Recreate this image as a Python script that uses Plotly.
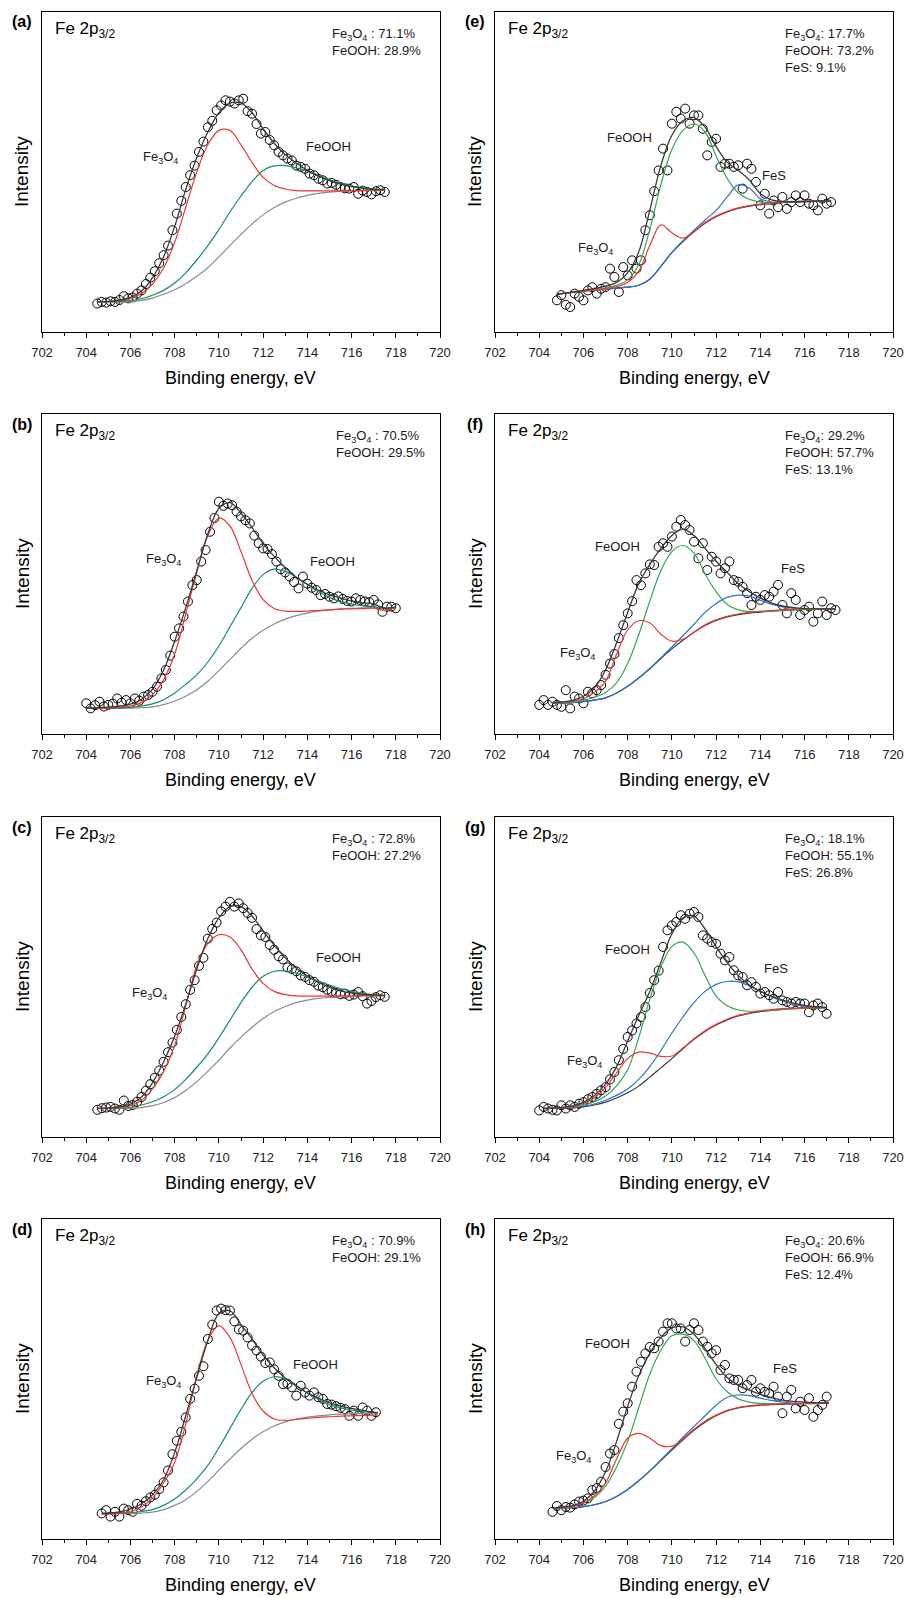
import numpy as np
import plotly.graph_objects as go

FONT = "Arial, Liberation Sans, sans-serif"

# ---------------- panel (a) ----------------
a_scatter_start = 704.5
a_scatter = [8.9, 9.4, 9.2, 9.6, 9.4, 10.0, 11.2, 10.5, 10.8, 12.0, 13.0, 15.0, 17.0, 19.0, 21.5, 24.0, 27.0,
             31.8, 37.0, 41.0, 45.3, 49.0, 52.0, 56.3, 59.5, 64.0, 66.0, 69.3, 70.8, 72.4, 72.0, 71.4, 72.4,
             72.9, 69.0, 68.2, 65.0, 62.0, 62.5, 60.0, 58.3, 56.3, 55.2, 54.2, 53.6, 52.0, 51.6, 51.0, 49.5,
             49.0, 47.9, 47.4, 46.4, 46.6, 46.0, 45.3, 44.9, 44.8, 45.3, 43.2, 44.2, 43.75, 43.0, 44.0, 44.3, 43.75]
a_x = [704.5, 705, 705.5, 706, 706.5, 707, 707.5, 708, 708.5, 709, 709.5, 710, 710.5, 711, 711.5, 712,
       712.5, 713, 713.5, 714, 714.5, 715, 715.5, 716, 716.5, 717, 717.5]
a_bg = [9.4, 9.4, 9.4, 9.5, 9.9, 10.6, 11.8, 13.2, 15.1, 17.4, 20.1, 23.5, 27.0, 30.5, 33.8, 36.6, 38.9,
        40.6, 41.8, 42.7, 43.3, 43.7, 43.9, 44.1, 44.2, 44.3, 44.3]
a_fe3o4 = [9.4, 9.5, 9.8, 10.4, 12.0, 15.0, 20.0, 28.0, 39.0, 50.0, 58.5, 63.0, 63.0, 58.5, 53.0, 48.3, 45.8,
           44.7, 44.2, 44.1, 44.1, 44.1, 44.1, 44.2, 44.2, 44.3, 44.3]
a_feooh = [9.4, 9.4, 9.5, 9.8, 10.4, 11.5, 13.0, 15.3, 18.5, 22.5, 27.0, 32.0, 37.5, 42.5, 47.0, 50.5, 51.9,
           52.0, 51.3, 50.2, 49.0, 47.6, 46.5, 45.6, 45.1, 44.7, 44.5]
a_env = [9.4, 9.6, 10.0, 10.8, 12.8, 17.0, 23.5, 33.0, 44.5, 54.5, 62.5, 68.5, 71.5, 71.5, 68.5, 63.5, 59.0,
         55.5, 52.8, 50.5, 48.7, 47.3, 46.2, 45.4, 44.9, 44.6, 44.4]
a_comp = ["Fe<sub>3</sub>O<sub>4</sub> : 71.1%", "FeOOH: 28.9%"]

# ---------------- panel (b) ----------------
b_scatter_start = 704.0
b_scatter = [9.6, 8.0, 9.0, 10.1, 8.6, 9.1, 9.5, 11.1, 9.8, 10.6, 9.6, 11.1, 10.4, 11.7, 12.2, 13.2, 14.8,
             17.4, 20.0, 24.5, 30.4, 33.0, 36.7, 41.4, 46.5, 48.1, 53.9, 57.5, 63.2, 67.5, 72.6, 71.3, 72.0,
             71.5, 69.5, 68.0, 66.8, 65.8, 62.0, 59.6, 58.0, 57.8, 56.2, 53.9, 51.5, 50.5, 49.2, 47.5, 45.5,
             49.2, 47.0, 45.7, 45.0, 43.4, 43.75, 42.9, 42.4, 43.0, 42.2, 41.6, 41.4, 42.4, 41.9, 41.4, 41.2,
             41.9, 40.5, 38.2, 39.8, 39.8, 39.3]
b_x = [704, 704.5, 705, 705.5, 706, 706.5, 707, 707.5, 708, 708.5, 709, 709.5, 710, 710.5, 711, 711.5, 712,
       712.5, 713, 713.5, 714, 714.5, 715, 715.5, 716, 716.5, 717, 717.5, 718]
b_bg = [8.0, 8.0, 8.0, 8.0, 8.1, 8.2, 8.5, 9.2, 10.3, 11.8, 13.8, 16.5, 19.8, 23.3, 26.8, 29.9, 32.4, 34.4,
        35.9, 37.0, 37.8, 38.4, 38.8, 39.1, 39.3, 39.4, 39.5, 39.5, 39.6]
b_fe3o4 = [8.0, 8.0, 8.1, 8.3, 8.7, 9.8, 12.3, 17.0, 25.0, 37.5, 50.5, 62.0, 67.5, 65.0, 57.0, 48.0, 42.0,
           39.2, 38.4, 38.3, 38.4, 38.6, 38.8, 39.0, 39.1, 39.2, 39.3, 38.6, 39.5]
b_feooh = [8.0, 8.0, 8.0, 8.1, 8.3, 8.7, 9.4, 10.7, 12.8, 15.5, 18.5, 22.5, 27.5, 33.5, 39.5, 45.5, 49.8,
           51.5, 50.8, 49.0, 46.7, 44.5, 42.7, 41.4, 40.6, 40.1, 39.8, 39.2, 39.6]
b_env = [8.1, 8.2, 8.4, 8.7, 9.3, 10.8, 14.0, 20.0, 29.0, 39.5, 51.0, 62.5, 70.5, 72.3, 69.0, 64.5, 59.5,
         55.5, 52.0, 49.0, 46.8, 45.0, 43.5, 42.5, 41.6, 41.0, 40.6, 39.3, 39.7]
b_comp = ["Fe<sub>3</sub>O<sub>4</sub> : 70.5%", "FeOOH: 29.5%"]

# ---------------- panel (c) ----------------
c_scatter_start = 704.5
c_scatter = [8.5, 9.0, 9.2, 9.4, 8.9, 8.5, 11.4, 9.7, 10.0, 11.0, 12.5, 14.5, 16.5, 18.5, 20.8, 23.5, 26.5,
             29.5, 33.5, 37.5, 41.5, 46.0, 49.0, 53.5, 56.0, 62.0, 65.0, 67.0, 70.5, 72.0, 73.5, 72.0, 73.0,
             71.5, 70.0, 68.5, 65.0, 63.0, 62.5, 60.0, 58.5, 56.5, 55.5, 53.0, 52.5, 51.8, 50.5, 50.0, 49.0,
             48.5, 47.3, 46.8, 46.0, 45.5, 45.0, 44.6, 44.8, 44.1, 44.5, 45.3, 44.0, 41.7, 42.5, 43.7, 44.3, 43.8]
c_x = [704.5, 705, 705.5, 706, 706.5, 707, 707.5, 708, 708.5, 709, 709.5, 710, 710.5, 711, 711.5, 712,
       712.5, 713, 713.5, 714, 714.5, 715, 715.5, 716, 716.5, 717, 717.5]
c_bg = [8.9, 8.9, 8.9, 9.0, 9.2, 9.8, 10.8, 12.3, 14.5, 17.3, 20.5, 24.0, 27.8, 31.2, 34.3, 37.0, 39.2,
        40.8, 42.0, 42.8, 43.3, 43.6, 43.8, 44.0, 44.1, 44.2, 44.2]
c_fe3o4 = [8.9, 9.0, 9.2, 9.8, 11.5, 15.0, 20.5, 28.5, 41.0, 53.5, 60.5, 63.2, 62.5, 58.5, 52.5, 48.0, 45.5,
           44.5, 44.1, 44.0, 44.0, 44.0, 44.1, 44.1, 44.2, 44.2, 44.2]
c_feooh = [8.9, 8.9, 9.0, 9.3, 10.0, 11.0, 12.6, 14.8, 18.0, 21.8, 26.0, 31.0, 36.5, 42.0, 46.8, 50.2, 51.8,
           51.9, 51.2, 50.0, 48.7, 47.5, 46.4, 45.5, 44.9, 44.5, 44.3]
c_env = [9.0, 9.1, 9.4, 10.3, 12.5, 17.0, 23.5, 31.5, 41.5, 52.5, 62.0, 68.5, 72.0, 72.0, 69.0, 64.5, 60.0,
         56.0, 52.8, 50.3, 48.3, 46.8, 45.7, 45.0, 44.6, 44.4, 44.2]
c_comp = ["Fe<sub>3</sub>O<sub>4</sub> : 72.8%", "FeOOH: 27.2%"]

# ---------------- panel (d) ----------------
d_scatter_start = 704.7
d_scatter = [8.0, 9.0, 7.0, 8.5, 7.0, 9.5, 9.0, 8.5, 11.0, 10.4, 11.8, 13.0, 13.8, 15.6, 17.7, 21.4, 26.5,
             30.7, 33.5, 38.0, 43.8, 47.0, 51.0, 54.0, 62.5, 67.0, 71.4, 72.0, 71.5, 71.4, 68.0, 65.5, 65.1,
             63.0, 60.5, 58.9, 57.0, 55.0, 55.2, 53.0, 51.0, 48.4, 48.5, 47.4, 44.8, 47.9, 45.8, 44.8, 45.8,
             44.3, 43.8, 42.2, 42.0, 41.5, 41.0, 40.6, 38.5, 40.1, 38.5, 41.1, 40.1, 38.5, 39.6]
d_x = [704.7, 705, 705.5, 706, 706.5, 707, 707.5, 708, 708.5, 709, 709.5, 710, 710.5, 711, 711.5, 712,
       712.5, 713, 713.5, 714, 714.5, 715, 715.5, 716, 716.5, 717, 717.2]
d_bg = [8.0, 8.0, 8.0, 8.0, 8.1, 8.4, 9.2, 10.5, 12.3, 14.8, 18.0, 21.5, 25.0, 28.3, 31.2, 33.5, 35.3, 36.6,
        37.5, 38.1, 38.5, 38.8, 39.0, 39.1, 39.2, 39.3, 39.3]
d_fe3o4 = [7.8, 7.8, 8.0, 8.5, 10.0, 12.8, 17.5, 24.0, 36.0, 51.0, 62.0, 66.7, 63.0, 54.5, 45.5, 40.0, 37.5,
           37.1, 37.4, 37.7, 38.0, 38.2, 38.4, 38.5, 38.6, 38.7, 38.8]
d_feooh = [8.0, 8.0, 8.0, 8.2, 8.6, 9.2, 10.5, 12.5, 15.3, 18.8, 23.0, 28.5, 34.5, 40.5, 45.8, 49.3, 50.7,
           50.0, 48.0, 45.6, 43.6, 42.0, 41.0, 40.3, 39.9, 39.6, 39.5]
d_env = [8.0, 8.1, 8.5, 9.3, 11.0, 13.8, 18.5, 27.0, 38.5, 50.5, 62.0, 70.5, 71.3, 67.0, 62.5, 57.5, 53.5,
         50.3, 47.8, 45.7, 44.0, 42.6, 41.5, 40.8, 40.2, 39.6, 39.4]
d_comp = ["Fe<sub>3</sub>O<sub>4</sub> : 70.9%", "FeOOH: 29.1%"]

# ---------------- panel (e) ----------------
e_scatter_start = 704.8
e_scatter = [9.9, 11.5, 8.5, 7.8, 12.0, 11.0, 9.9, 13.0, 14.0, 12.0, 13.5, 14.0, 19.8, 17.2, 12.5, 20.3,
             17.7, 22.4, 19.8, 22.4, 31.8, 36.5, 44.0, 50.5, 57.3, 50.5, 65.1, 68.8, 66.7, 69.8, 65.1, 67.7,
             67.7, 63.5, 55.2, 59.4, 60.4, 51.6, 52.6, 52.6, 51.6, 52.1, 44.8, 52.6, 51.0, 46.9, 39.6, 43.2,
             37.0, 41.1, 39.0, 42.2, 38.5, 40.6, 42.7, 40.6, 42.7, 40.1, 39.6, 38.0, 41.7, 40.1, 40.6]
e_x = [704.8, 705, 705.5, 706, 706.5, 707, 707.5, 708, 708.5, 709, 709.5, 710, 710.5, 711, 711.5, 712,
       712.5, 713, 713.5, 714, 714.5, 715, 715.5, 716, 716.5, 717, 717.2]
e_bg = [11.8, 12.0, 12.4, 12.8, 13.1, 13.4, 13.7, 14.0, 14.6, 16.5, 20.5, 24.8, 28.3, 31.3, 34.0, 36.0,
        37.5, 38.6, 39.3, 39.8, 40.1, 40.4, 40.6, 40.7, 40.8, 40.9, 41.0]
e_fe3o4 = [11.8, 12.0, 12.4, 12.8, 13.1, 13.5, 14.2, 15.5, 19.0, 27.0, 33.5, 31.0, 29.3, 31.4, 34.2, 36.2,
           37.7, 38.8, 39.5, 40.0, 40.3, 40.6, 40.8, 40.9, 41.0, 41.1, 41.1]
e_feooh = [11.8, 12.0, 12.4, 12.9, 13.3, 13.8, 14.6, 16.3, 21.0, 32.0, 46.0, 57.0, 63.0, 65.0, 62.5, 55.0,
           48.0, 43.5, 41.5, 40.6, 40.4, 40.5, 40.6, 40.8, 40.9, 41.0, 41.0]
e_fes = [11.8, 12.0, 12.4, 12.8, 13.1, 13.4, 13.7, 14.0, 14.6, 16.5, 20.5, 24.9, 28.5, 31.8, 35.0, 38.0,
         42.2, 46.0, 45.0, 41.6, 40.6, 40.5, 40.6, 40.7, 40.8, 40.9, 41.0]
e_env = [11.8, 12.0, 12.5, 13.0, 13.6, 14.3, 15.5, 18.5, 25.0, 38.0, 52.0, 61.5, 66.0, 67.0, 64.0, 58.0,
         53.0, 50.5, 47.5, 43.3, 41.3, 40.8, 40.7, 40.8, 40.9, 41.0, 41.0]
e_comp = ["Fe<sub>3</sub>O<sub>4</sub>: 17.7%", "FeOOH: 73.2%", "FeS: 9.1%"]

# ---------------- panel (f) ----------------
f_scatter_start = 704.0
f_scatter = [9.1, 10.6, 9.1, 10.1, 9.1, 8.5, 13.7, 8.0, 11.7, 11.1, 9.6, 13.2, 12.7, 13.7, 15.3, 18.5, 22.0,
             25.0, 30.0, 34.0, 37.7, 41.5, 48.1, 46.5, 50.2, 53.0, 52.8, 58.5, 59.6, 58.5, 61.7, 64.8, 66.9,
             65.3, 63.75, 60.1, 54.9, 59.6, 51.25, 55.4, 53.9, 50.2, 51.8, 53.9, 48.1, 47.6, 46.0, 44.0, 40.3,
             42.9, 41.9, 43.4, 42.9, 44.5, 46.6, 40.3, 37.7, 44.0, 41.9, 37.2, 38.75, 39.8, 35.1, 37.7, 41.4,
             37.2, 39.3, 38.75]
f_x = [704.6, 705, 705.5, 706, 706.5, 707, 707.5, 708, 708.5, 709, 709.5, 710, 710.5, 711, 711.5, 712,
       712.5, 713, 713.5, 714, 714.5, 715, 715.5, 716, 716.5, 717, 717.4]
f_bg = [9.6, 9.7, 9.8, 10.1, 10.6, 11.3, 12.8, 14.9, 17.5, 20.4, 23.6, 26.6, 29.3, 31.8, 33.9, 35.5, 36.6,
        37.3, 37.8, 38.1, 38.4, 38.6, 38.8, 38.9, 39.0, 39.1, 39.1]
f_fe3o4 = [9.7, 9.9, 10.3, 11.0, 13.0, 16.5, 25.0, 32.5, 35.4, 34.7, 31.2, 29.0, 29.6, 31.8, 34.1, 35.7,
           36.8, 37.5, 38.0, 38.3, 38.6, 38.8, 39.0, 39.1, 39.2, 39.2, 39.2]
f_feooh = [9.7, 9.8, 10.0, 10.5, 11.5, 13.0, 16.0, 22.0, 31.0, 41.5, 51.0, 57.0, 58.9, 56.5, 50.0, 44.5,
           40.5, 38.8, 38.3, 38.3, 38.4, 38.6, 38.8, 38.9, 39.0, 39.1, 39.1]
f_fes = [9.6, 9.7, 9.8, 10.1, 10.6, 11.3, 12.8, 14.9, 17.5, 20.5, 23.8, 27.2, 30.7, 34.3, 38.0, 40.8, 42.7,
         43.4, 43.1, 41.8, 40.6, 39.7, 39.3, 39.1, 39.1, 39.1, 39.1]
f_env = [9.8, 10.0, 10.5, 11.8, 14.5, 20.0, 28.5, 38.0, 47.0, 53.0, 58.0, 62.0, 64.0, 62.0, 58.0, 54.0,
         50.5, 47.0, 44.5, 42.5, 41.0, 40.0, 39.5, 39.2, 39.1, 39.1, 39.1]
f_comp = ["Fe<sub>3</sub>O<sub>4</sub>: 29.2%", "FeOOH: 57.7%", "FeS: 13.1%"]

# ---------------- panel (g) ----------------
g_scatter_start = 704.0
g_scatter = [8.3, 9.4, 8.9, 8.5, 8.3, 9.9, 8.9, 9.9, 9.4, 10.4, 10.9, 11.8, 12.5, 13.5, 14.6, 15.6, 18.0,
             20.3, 24.0, 27.5, 31.25, 33.3, 35.5, 37.5, 40.6, 45.0, 49.0, 52.0, 59.4, 64.6, 66.1, 67.2, 69.3,
             68.2, 69.8, 70.3, 68.75, 63.0, 62.0, 60.9, 60.4, 57.3, 55.2, 56.25, 52.1, 50.5, 50.0, 47.4, 48.4,
             46.9, 44.8, 45.3, 44.3, 43.2, 45.3, 42.7, 42.2, 41.7, 42.2, 41.7, 41.7, 39.0, 41.1, 41.7, 40.6, 38.5]
g_x = [704.2, 704.5, 705, 705.5, 706, 706.5, 707, 707.5, 708, 708.5, 709, 709.5, 710, 710.5, 711, 711.5,
       712, 712.5, 713, 713.5, 714, 714.5, 715, 715.5, 716, 716.5, 717]
g_bg = [8.9, 8.9, 9.0, 9.1, 9.4, 10.0, 10.9, 12.2, 13.8, 15.9, 18.7, 21.6, 24.5, 27.6, 30.5, 33.0, 35.0,
        36.6, 37.8, 38.6, 39.2, 39.6, 39.9, 40.1, 40.2, 40.3, 40.4]
g_fe3o4 = [8.9, 9.0, 9.1, 9.5, 10.5, 12.3, 15.5, 20.0, 24.5, 26.5, 26.2, 25.2, 25.3, 27.8, 30.7, 33.2, 35.2,
           36.8, 38.0, 38.8, 39.4, 39.8, 40.1, 40.2, 40.3, 40.4, 40.4]
g_feooh = [8.9, 9.0, 9.2, 9.5, 10.0, 11.0, 12.8, 16.0, 21.0, 31.0, 43.0, 53.0, 59.5, 60.9, 57.5, 50.5, 44.0,
           41.0, 39.7, 39.3, 39.4, 39.6, 39.9, 40.1, 40.2, 40.3, 40.4]
g_fes = [8.9, 8.9, 9.1, 9.3, 9.6, 10.3, 11.5, 13.0, 15.0, 18.0, 22.0, 27.0, 32.5, 37.5, 42.0, 45.5, 47.7,
         48.6, 48.5, 47.3, 45.5, 43.8, 42.5, 41.5, 40.9, 40.6, 40.5]
g_env = [8.9, 9.0, 9.2, 9.7, 10.8, 13.0, 16.5, 22.0, 30.0, 38.0, 45.5, 54.5, 63.5, 68.5, 69.0, 65.0, 59.5,
         54.5, 50.5, 47.5, 45.5, 44.0, 42.8, 41.8, 41.1, 40.7, 40.5]
g_comp = ["Fe<sub>3</sub>O<sub>4</sub>: 18.1%", "FeOOH: 55.1%", "FeS: 26.8%"]

# ---------------- panel (h) ----------------
h_scatter_start = 704.6
h_scatter = [8.5, 10.3, 9.0, 10.0, 9.8, 10.8, 11.7, 12.0, 12.7, 15.3, 15.9, 17.9, 22.5, 26.7, 27.8, 36.0,
             39.8, 42.4, 47.6, 52.3, 55.4, 58.0, 60.0, 59.6, 61.7, 64.8, 67.4, 67.4, 65.8, 65.8, 61.7, 65.3,
             67.4, 65.3, 61.7, 60.1, 58.0, 59.0, 52.8, 54.4, 50.2, 49.7, 49.7, 47.1, 48.1, 49.7, 46.0, 47.1,
             46.0, 45.5, 47.6, 44.5, 39.3, 44.5, 46.6, 40.8, 42.9, 40.3, 44.0, 38.2, 40.3, 41.9, 44.5]
h_x = [704.7, 705, 705.5, 706, 706.5, 707, 707.5, 708, 708.5, 709, 709.5, 710, 710.5, 711, 711.5, 712,
       712.5, 713, 713.5, 714, 714.5, 715, 715.5, 716, 716.5, 717, 717.1]
h_bg = [9.5, 9.6, 9.8, 10.1, 10.7, 11.7, 13.3, 15.5, 18.2, 21.2, 24.5, 27.8, 31.0, 34.0, 36.5, 38.5, 40.0,
        41.0, 41.5, 41.8, 42.0, 42.1, 42.2, 42.3, 42.3, 42.4, 42.4]
h_fe3o4 = [9.6, 9.8, 10.2, 11.3, 13.5, 17.5, 25.0, 31.5, 33.0, 31.5, 29.2, 29.0, 31.3, 34.3, 36.8, 38.7,
           40.2, 41.1, 41.6, 41.9, 42.1, 42.2, 42.3, 42.4, 42.4, 42.5, 42.5]
h_feooh = [9.6, 9.8, 10.2, 11.2, 13.0, 16.5, 22.5, 30.5, 41.0, 51.5, 59.0, 63.5, 64.0, 62.0, 56.5, 50.0,
           46.0, 43.8, 42.8, 42.4, 42.3, 42.3, 42.3, 42.4, 42.4, 42.5, 42.5]
h_fes = [9.5, 9.6, 9.8, 10.1, 10.7, 11.7, 13.3, 15.5, 18.2, 21.3, 24.7, 28.2, 31.8, 35.2, 38.5, 41.8, 44.3,
         45.0, 44.8, 44.0, 43.3, 42.8, 42.5, 42.4, 42.4, 42.4, 42.4]
h_env = [9.7, 10.0, 10.4, 11.8, 15.0, 21.0, 30.5, 41.5, 51.0, 58.0, 63.0, 66.0, 66.3, 64.0, 59.5, 54.5,
         50.5, 48.0, 46.5, 45.2, 44.2, 43.4, 43.0, 42.8, 42.6, 42.5, 42.5]
h_comp = ["Fe<sub>3</sub>O<sub>4</sub>: 20.6%", "FeOOH: 66.9%", "FeS: 12.4%"]

# ---------------- assemble ----------------
PANELS = [
    dict(tag="a", col=0, row=0, start=a_scatter_start, pts=a_scatter, x=a_x, bg=a_bg, fe3o4=a_fe3o4,
         feooh=a_feooh, fes=None, env=a_env, comp=a_comp),
    dict(tag="b", col=0, row=1, start=b_scatter_start, pts=b_scatter, x=b_x, bg=b_bg, fe3o4=b_fe3o4,
         feooh=b_feooh, fes=None, env=b_env, comp=b_comp),
    dict(tag="c", col=0, row=2, start=c_scatter_start, pts=c_scatter, x=c_x, bg=c_bg, fe3o4=c_fe3o4,
         feooh=c_feooh, fes=None, env=c_env, comp=c_comp),
    dict(tag="d", col=0, row=3, start=d_scatter_start, pts=d_scatter, x=d_x, bg=d_bg, fe3o4=d_fe3o4,
         feooh=d_feooh, fes=None, env=d_env, comp=d_comp),
    dict(tag="e", col=1, row=0, start=e_scatter_start, pts=e_scatter, x=e_x, bg=e_bg, fe3o4=e_fe3o4,
         feooh=e_feooh, fes=e_fes, env=e_env, comp=e_comp),
    dict(tag="f", col=1, row=1, start=f_scatter_start, pts=f_scatter, x=f_x, bg=f_bg, fe3o4=f_fe3o4,
         feooh=f_feooh, fes=f_fes, env=f_env, comp=f_comp),
    dict(tag="g", col=1, row=2, start=g_scatter_start, pts=g_scatter, x=g_x, bg=g_bg, fe3o4=g_fe3o4,
         feooh=g_feooh, fes=g_fes, env=g_env, comp=g_comp),
    dict(tag="h", col=1, row=3, start=h_scatter_start, pts=h_scatter, x=h_x, bg=h_bg, fe3o4=h_fe3o4,
         feooh=h_feooh, fes=h_fes, env=h_env, comp=h_comp),
]

# peak-label anchor points (energy, intensity units) per panel
LABELS = {
    "a": {"Fe3O4": (707.38, 54.5), "FeOOH": (714.97, 58.1)},
    "b": {"Fe3O4": (707.5, 54.4), "FeOOH": (715.15, 53.9)},
    "c": {"Fe3O4": (706.87, 44.8), "FeOOH": (715.4, 56.25)},
    "d": {"Fe3O4": (707.5, 49.2), "FeOOH": (714.35, 54.6)},
    "e": {"Fe3O4": (706.56, 26.0), "FeOOH": (708.1, 60.9), "FeS": (714.6, 49.0)},
    "f": {"Fe3O4": (705.72, 25.2), "FeOOH": (707.53, 58.75), "FeS": (715.48, 51.8)},
    "g": {"Fe3O4": (706.04, 23.75), "FeOOH": (707.98, 58.6), "FeS": (714.73, 52.6)},
    "h": {"Fe3O4": (705.54, 25.7), "FeOOH": (707.09, 61.1), "FeS": (715.1, 53.3)},
}
LABEL_TEXT = {"Fe3O4": "Fe<sub>3</sub>O<sub>4</sub>", "FeOOH": "FeOOH", "FeS": "FeS"}

W, H = 906, 1598
COL_X = [(42, 440), (495, 893)]
ROW_Y = [(12, 332), (414, 734), (817, 1137), (1219, 1539)]

RED = "#e8392f"
GREEN_L = "#14905e"
GREEN_R = "#34a653"
BLUE = "#2f6fcf"
GRAY = "#8a8a8a"
DARK = "#333844"
ENV = "#3a3a3a"

fig = go.Figure()
layout = dict(width=W, height=H, margin=dict(l=0, r=0, t=0, b=0, pad=0, autoexpand=False),
              paper_bgcolor="white", plot_bgcolor="white", showlegend=False,
              font=dict(family=FONT, color="#1a1a1a"))
annotations = []

for i, p in enumerate(PANELS, start=1):
    xa = "x" if i == 1 else f"x{i}"
    ya = "y" if i == 1 else f"y{i}"
    x0, x1 = COL_X[p["col"]]
    t, b = ROW_Y[p["row"]]
    xdom = [x0 / W, x1 / W]
    ydom = [1 - b / H, 1 - t / H]
    layout["xaxis" if i == 1 else f"xaxis{i}"] = dict(
        domain=xdom, anchor=ya, range=[702, 720], showline=True, mirror=True, linecolor="black",
        linewidth=1, ticks="outside", ticklen=5, tickwidth=1, tickcolor="black", tick0=702, dtick=2,
        minor=dict(ticks="outside", ticklen=3, tickwidth=1, tickcolor="black", dtick=1),
        tickfont=dict(size=13, color="#222", family=FONT), showgrid=False, zeroline=False,
        ticklabelstandoff=3, automargin=False)
    layout["yaxis" if i == 1 else f"yaxis{i}"] = dict(
        domain=ydom, anchor=xa, range=[0, 100], showline=True, mirror=True, linecolor="black",
        linewidth=1, ticks="", showticklabels=False, showgrid=False, zeroline=False, automargin=False)

    sx = np.round(p["start"] + 0.2 * np.arange(len(p["pts"])), 2)
    fig.add_trace(go.Scatter(x=sx, y=p["pts"], mode="markers", xaxis=xa, yaxis=ya, hoverinfo="skip",
                             marker=dict(symbol="circle-open", size=9, color="black",
                                         line=dict(width=1, color="black"))))
    right = p["fes"] is not None
    line = lambda c, w=1.2: dict(color=c, width=w, shape="spline", smoothing=1.0)
    fig.add_trace(go.Scatter(x=p["x"], y=p["bg"], mode="lines", xaxis=xa, yaxis=ya, hoverinfo="skip",
                             line=line(DARK if right else GRAY)))
    if right:
        fig.add_trace(go.Scatter(x=p["x"], y=p["fes"], mode="lines", xaxis=xa, yaxis=ya,
                                 hoverinfo="skip", line=line(BLUE)))
    fig.add_trace(go.Scatter(x=p["x"], y=p["feooh"], mode="lines", xaxis=xa, yaxis=ya, hoverinfo="skip",
                             line=line(GREEN_R if right else GREEN_L)))
    fig.add_trace(go.Scatter(x=p["x"], y=p["fe3o4"], mode="lines", xaxis=xa, yaxis=ya, hoverinfo="skip",
                             line=line(RED)))
    fig.add_trace(go.Scatter(x=p["x"], y=p["env"], mode="lines", xaxis=xa, yaxis=ya, hoverinfo="skip",
                             line=line(ENV, 1.3)))

    xd = f"{xa} domain"
    yd = f"{ya} domain"
    annotations.append(dict(text=f"<b>({p['tag']})</b>", xref=xd, yref=yd, x=-20 / 398, y=1 - 10 / 320,
                            xanchor="center", yanchor="middle", showarrow=False,
                            font=dict(size=16, color="black", family=FONT)))
    annotations.append(dict(text="Intensity", xref=xd, yref=yd, x=-20 / 398, y=0.5, textangle=-90,
                            xanchor="center", yanchor="middle", showarrow=False,
                            font=dict(size=19, color="black", family=FONT)))
    annotations.append(dict(text="Binding energy, eV", xref=xd, yref=yd, x=0.5, y=-46 / 320,
                            xanchor="center", yanchor="middle", showarrow=False,
                            font=dict(size=18, color="black", family=FONT)))
    annotations.append(dict(text="Fe 2p<sub>3/2</sub>", xref=xd, yref=yd, x=11 / 398, y=1 - 18 / 320,
                            xanchor="left", yanchor="middle", showarrow=False,
                            font=dict(size=17, color="black", family=FONT)))
    annotations.append(dict(text="<br>".join(p["comp"]), xref=xd, yref=yd,
                            x=(0.733 if p["tag"] == "b" else 0.723), y=1 - 12 / 320,
                            xanchor="left", yanchor="top", align="left", showarrow=False,
                            font=dict(size=13, color="#1a1a1a", family=FONT)))
    for key, (ex, ey) in LABELS[p["tag"]].items():
        annotations.append(dict(text=LABEL_TEXT[key], xref=xa, yref=ya, x=ex, y=ey, xanchor="center",
                                yanchor="middle", showarrow=False,
                                font=dict(size=13, color="#1a1a1a", family=FONT)))

layout["annotations"] = annotations
fig.update_layout(**layout)
fig.write_html(
    "out.html",
    config={"displayModeBar": False},
    post_script="document.body.style.margin='0px';document.body.style.padding='0px';"
                "document.documentElement.style.overflow='hidden';",
)
